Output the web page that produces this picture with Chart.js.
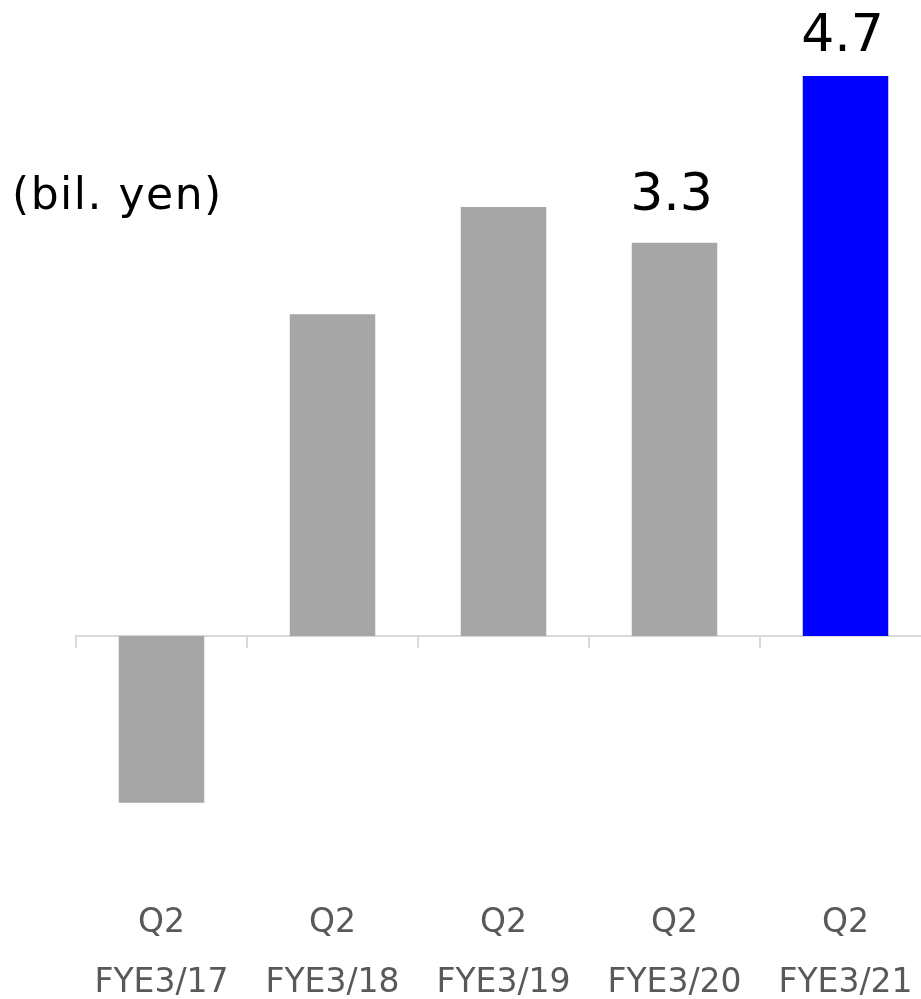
<!DOCTYPE html>
<html>
<head>
<meta charset="utf-8">
<script src="https://cdn.jsdelivr.net/npm/chart.js@4/dist/chart.umd.min.js"></script>
<style>
  html, body { margin: 0; padding: 0; background: #fff; overflow: hidden; }
  #wrap { position: relative; width: 921px; height: 999px; overflow: hidden; }
  #chart { position: absolute; left: 0; top: 0; }
  #unit {
    position: absolute; left: 12px; top: 172px;
    font: 44px "DejaVu Sans", Verdana, sans-serif; line-height: 1; color: #000;
    letter-spacing: 1.5px; white-space: nowrap;
  }
</style>
</head>
<body>
<div id="wrap">
  <canvas id="chart" width="935" height="999"></canvas>
  <div id="unit">(bil. yen)</div>
</div>
<script>
// Q2 operating income by fiscal year (bil. yen)
const periods = ['Q2', 'Q2', 'Q2', 'Q2', 'Q2'];
const fiscalYears = ['FYE3/17', 'FYE3/18', 'FYE3/19', 'FYE3/20', 'FYE3/21'];
const values = [-1.4, 2.7, 3.6, 3.3, 4.7];
const barColors = ['#a6a6a6', '#a6a6a6', '#a6a6a6', '#a6a6a6', '#0000ff'];
const labelled = [3, 4];          // bars that carry a value label
const labelGap = { 3: 33, 4: 25 }; // px between bar top and label baseline

const yMin = -2;
const yMax = 5;

const categories = periods.map((p, i) => [p, fiscalYears[i]]);

// value labels above selected bars
const valueLabels = {
  id: 'valueLabels',
  afterDatasetsDraw(chart) {
    const ctx = chart.ctx;
    const meta = chart.getDatasetMeta(0);
    ctx.save();
    ctx.font = '52px "DejaVu Sans", Verdana, sans-serif';
    ctx.fillStyle = '#000';
    ctx.textAlign = 'center';
    ctx.textBaseline = 'alphabetic';
    labelled.forEach(i => {
      const bar = meta.data[i];
      ctx.fillText(values[i].toFixed(1), bar.x - 3, bar.y - labelGap[i]);
    });
    ctx.restore();
  }
};

new Chart(document.getElementById('chart'), {
  type: 'bar',
  data: {
    labels: categories,
    datasets: [{
      data: values,
      backgroundColor: barColors,
      borderWidth: 0,
      barPercentage: 0.5,
      categoryPercentage: 1.0,
      xAxisID: 'x'
    }]
  },
  options: {
    responsive: false,
    animation: false,
    events: [],
    layout: { padding: { left: 76, right: 4, top: 40.25, bottom: 0 } },
    plugins: {
      legend: { display: false },
      tooltip: { enabled: false }
    },
    scales: {
      // zero line with tick marks between categories
      x: {
        type: 'category',
        position: { y: 0 },
        z: 1,
        ticks: { display: false },
        grid: {
          offset: true,
          drawOnChartArea: false,
          drawTicks: true,
          tickLength: 11,
          color: '#d9d9d9',
          lineWidth: 2
        },
        border: { display: true, color: '#d9d9d9', width: 2 }
      },
      // category labels along the bottom
      x2: {
        type: 'category',
        position: 'bottom',
        grid: { display: false, drawTicks: false },
        border: { display: false },
        ticks: {
          padding: 19,
          color: '#595959',
          maxRotation: 0,
          autoSkip: false,
          font: { family: '"DejaVu Sans", Verdana, sans-serif', size: 33, lineHeight: 60 / 33 }
        },
        afterFit(scale) { scale.height = 999 - 874.25; }
      },
      y: {
        display: false,
        min: yMin,
        max: yMax
      }
    }
  },
  plugins: [valueLabels]
});
</script>
</body>
</html>
